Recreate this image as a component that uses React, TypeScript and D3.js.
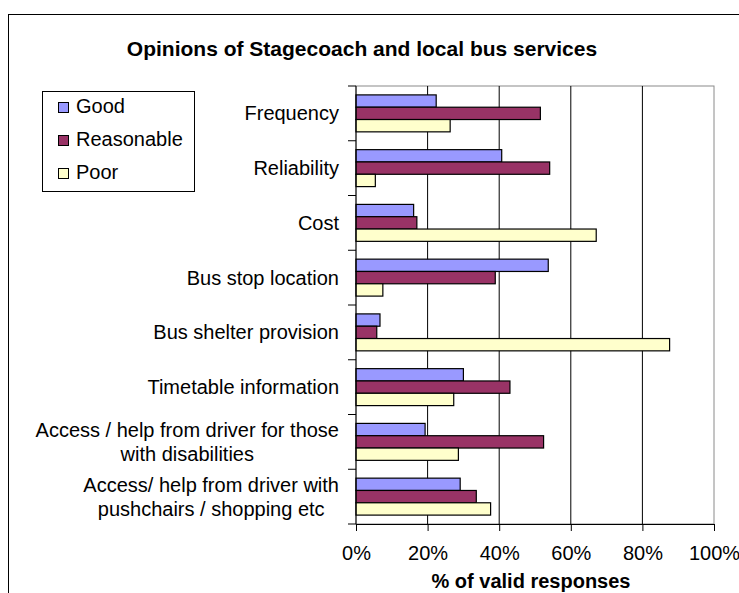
import React, { useEffect, useRef } from "react";
import * as d3 from "d3";

// categories, top to bottom ("\n" marks a line break in the label)
const categories = [
  "Frequency",
  "Reliability",
  "Cost",
  "Bus stop location",
  "Bus shelter provision",
  "Timetable information",
  "Access / help from driver for those\nwith disabilities",
  "Access/ help from driver with\npushchairs / shopping etc",
];
const seriesNames = ["Good", "Reasonable", "Poor"];
const good = [22.4, 40.7, 16.1, 53.7, 6.7, 30.0, 19.3, 29.1];
const reasonable = [51.5, 54.1, 17.0, 38.9, 5.8, 43.0, 52.4, 33.6];
const poor = [26.3, 5.4, 67.1, 7.5, 87.6, 27.3, 28.6, 37.6];
const xTicks = [0, 20, 40, 60, 80, 100];
const colors = ["#9999FF", "#993366", "#FFFFCC"];

const W = 739;
const H = 593;
const margin = { top: 86, right: 25, bottom: 69, left: 356 };
const FONT = "'Liberation Sans', Arial, Helvetica, sans-serif";

export default function App() {
  const ref = useRef<SVGSVGElement>(null);

  useEffect(() => {
    const svg = d3.select(ref.current);
    svg.selectAll("*").remove();
    svg.attr("font-family", FONT);

    const series = [good, reasonable, poor];

    // outer chart border
    svg
      .append("rect")
      .attr("x", 8.5)
      .attr("y", 14.5)
      .attr("width", W)
      .attr("height", H)
      .attr("fill", "#fff")
      .attr("stroke", "#000");

    svg
      .append("text")
      .attr("x", 362)
      .attr("y", 56)
      .attr("text-anchor", "middle")
      .attr("font-size", 21)
      .attr("font-weight", "bold")
      .text("Opinions of Stagecoach and local bus services");

    // scales
    const x = d3
      .scaleLinear()
      .domain([0, 100])
      .range([margin.left, W - margin.right]);
    const y = d3
      .scaleBand()
      .domain(categories)
      .range([margin.top, H - margin.bottom])
      .paddingInner(0.325)
      .paddingOuter(0.1625);
    const inner = d3
      .scaleBand()
      .domain(seriesNames)
      .range([0, y.bandwidth()]);

    const [y0, y1] = y.range();

    // plot area border (grey) and gridlines
    svg
      .append("rect")
      .attr("x", x(0))
      .attr("y", y0)
      .attr("width", x(100) - x(0))
      .attr("height", y1 - y0)
      .attr("fill", "none")
      .attr("stroke", "#8a8a8a");

    svg
      .append("g")
      .selectAll("line")
      .data(xTicks.filter((t) => t > 0 && t < 100))
      .enter()
      .append("line")
      .attr("x1", (d) => x(d))
      .attr("x2", (d) => x(d))
      .attr("y1", y0)
      .attr("y2", y1)
      .attr("stroke", "#000");

    // bars
    const groups = svg
      .append("g")
      .selectAll("g")
      .data(categories)
      .enter()
      .append("g")
      .attr("transform", (d) => "translate(0," + y(d) + ")");

    groups
      .selectAll("rect")
      .data((d, i) => seriesNames.map((s, j) => ({ s, j, v: series[j][i] })))
      .enter()
      .append("rect")
      .attr("x", x(0))
      .attr("y", (d) => inner(d.s)!)
      .attr("width", (d) => x(d.v) - x(0))
      .attr("height", inner.bandwidth())
      .attr("fill", (d) => colors[d.j])
      .attr("stroke", "#000")
      .attr("stroke-width", 1.2);

    // left axis with ticks between categories
    svg
      .append("line")
      .attr("x1", x(0))
      .attr("x2", x(0))
      .attr("y1", y0)
      .attr("y2", y1)
      .attr("stroke", "#000");
    svg
      .append("g")
      .selectAll("line")
      .data(d3.range(categories.length + 1))
      .enter()
      .append("line")
      .attr("x1", x(0) - 8)
      .attr("x2", x(0))
      .attr("y1", (i) => y0 + i * y.step())
      .attr("y2", (i) => y0 + i * y.step())
      .attr("stroke", "#000");

    // category labels: lines centred on each other, block right aligned
    categories.forEach((c) => {
      const lines = c.split("\n");
      const cy = y(c)! + y.bandwidth() / 2;
      const t = svg
        .append("text")
        .attr("font-size", 20)
        .attr("text-anchor", "middle")
        .attr("fill", "#000");
      lines.forEach((ln, k) => {
        t.append("tspan")
          .attr("y", cy + (k - (lines.length - 1) / 2) * 24 + 7)
          .text(ln);
      });
      const widths = t
        .selectAll<SVGTSpanElement, unknown>("tspan")
        .nodes()
        .map((n) => n.getComputedTextLength());
      const maxW = d3.max(widths) || 0;
      t.selectAll("tspan").attr("x", 339 - maxW / 2);
    });

    // bottom axis
    const xAxis = d3
      .axisBottom(x)
      .tickValues(xTicks)
      .tickFormat((d) => d + "%")
      .tickSize(7)
      .tickSizeOuter(0)
      .tickPadding(15);
    const ax = svg
      .append("g")
      .attr("transform", "translate(0," + y1 + ")")
      .call(xAxis);
    ax.select(".domain").attr("stroke", "#000");
    ax.selectAll("line").attr("stroke", "#000");
    ax.selectAll("text")
      .attr("font-size", 20)
      .attr("font-family", FONT)
      .attr("fill", "#000");

    svg
      .append("text")
      .attr("x", 531)
      .attr("y", 588)
      .attr("text-anchor", "middle")
      .attr("font-size", 20)
      .attr("font-weight", "bold")
      .text("% of valid responses");

    // legend
    const lg = svg.append("g");
    lg.append("rect")
      .attr("x", 42.5)
      .attr("y", 91.5)
      .attr("width", 152)
      .attr("height", 100)
      .attr("fill", "#fff")
      .attr("stroke", "#000");
    seriesNames.forEach((s, i) => {
      const base = 113 + i * 33;
      lg.append("rect")
        .attr("x", 58.5)
        .attr("y", base - 10.5)
        .attr("width", 10)
        .attr("height", 10)
        .attr("fill", colors[i])
        .attr("stroke", "#000");
      lg.append("text")
        .attr("x", 76)
        .attr("y", base)
        .attr("font-size", 20)
        .text(s);
    });
  }, []);

  return (
    <svg
      ref={ref}
      width={W}
      height={H}
      style={{ position: "absolute", left: 0, top: 0, background: "#fff" }}
    />
  );
}
